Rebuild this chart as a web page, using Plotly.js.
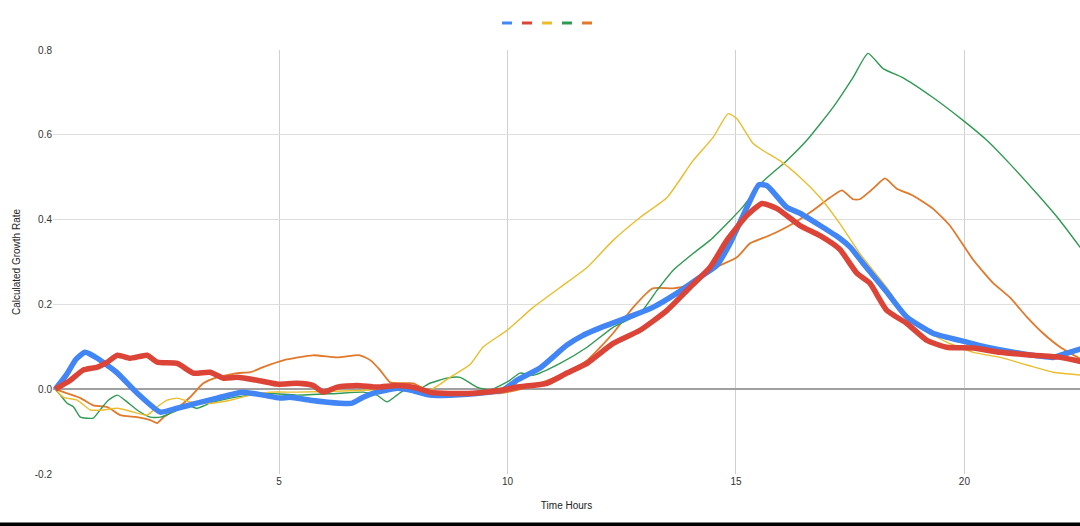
<!DOCTYPE html>
<html>
<head>
<meta charset="utf-8">
<script src="https://cdn.plot.ly/plotly-3.0.1.min.js"></script>
<style>
  html, body { margin: 0; padding: 0; background: #fff; }
  #myPlot { width: 1080px; height: 526px; }
</style>
</head>
<body>
<div id="myPlot"></div>
<script>
// series: time (hours) and growth rate
var blueX = [0.1, 0.35, 0.55, 0.75, 1.02, 1.46, 1.89, 2.4, 2.77, 3.2, 3.64, 4.2, 4.65, 5.02, 5.24, 5.68, 6.33, 6.6, 6.84, 7.14, 7.58, 7.87, 8.3, 8.74, 9.33, 9.9, 10.2, 10.71, 11.3, 11.65, 12.18, 12.75, 13.18, 13.7, 14.21, 14.58, 14.87, 15.24, 15.5, 15.68, 16.11, 16.4, 16.84, 17.27, 17.5, 17.78, 18.3, 18.74, 19.31, 19.9, 20.49, 21.2, 21.94, 22.3, 22.6];
var blueY = [0, 0.035, 0.07, 0.087, 0.073, 0.038, -0.009, -0.054, -0.045, -0.033, -0.021, -0.007, -0.014, -0.021, -0.019, -0.026, -0.033, -0.033, -0.019, -0.007, 0.002, -0.002, -0.014, -0.014, -0.01, -0.002, 0.021, 0.05, 0.104, 0.127, 0.151, 0.174, 0.193, 0.226, 0.264, 0.292, 0.344, 0.429, 0.482, 0.48, 0.429, 0.415, 0.386, 0.356, 0.335, 0.297, 0.229, 0.17, 0.132, 0.115, 0.099, 0.085, 0.075, 0.087, 0.097];

var redX = [0.1, 0.43, 0.71, 1.02, 1.24, 1.46, 1.74, 2.11, 2.33, 2.77, 3.12, 3.49, 3.78, 4.08, 4.52, 4.96, 5.39, 5.74, 5.96, 6.27, 6.7, 7.14, 7.58, 7.93, 8.3, 8.74, 9.33, 9.9, 10.2, 10.86, 11.3, 11.74, 12.31, 12.9, 13.49, 13.99, 14.43, 14.8, 15.24, 15.57, 15.9, 16.4, 16.84, 17.27, 17.65, 17.93, 18.3, 18.74, 19.18, 19.61, 20.2, 20.78, 21.5, 22.1, 22.6];
var redY = [0, 0.021, 0.045, 0.052, 0.064, 0.08, 0.073, 0.08, 0.064, 0.061, 0.038, 0.04, 0.026, 0.028, 0.021, 0.012, 0.014, 0.009, -0.007, 0.005, 0.009, 0.005, 0.009, 0.005, -0.007, -0.01, -0.009, -0.002, 0.005, 0.014, 0.038, 0.061, 0.108, 0.139, 0.186, 0.24, 0.287, 0.351, 0.41, 0.438, 0.426, 0.386, 0.362, 0.33, 0.273, 0.25, 0.186, 0.155, 0.115, 0.099, 0.097, 0.087, 0.08, 0.075, 0.064];

var yellowX = [0.1, 0.28, 0.58, 0.87, 1.15, 1.46, 1.81, 2.11, 2.33, 2.55, 2.77, 3.05, 3.49, 3.93, 4.37, 4.8, 5.39, 6.2, 7.0, 7.87, 8.3, 8.74, 9.18, 9.47, 9.99, 10.56, 11.15, 11.74, 12.31, 12.9, 13.49, 14.06, 14.5, 14.83, 15.02, 15.37, 15.59, 15.96, 16.4, 16.84, 17.27, 17.71, 18.3, 18.65, 19.02, 19.61, 20.2, 20.78, 21.37, 21.94, 22.6];
var yellowY = [0, -0.019, -0.026, -0.049, -0.049, -0.045, -0.054, -0.061, -0.042, -0.026, -0.021, -0.03, -0.033, -0.026, -0.014, -0.007, -0.007, -0.005, -0.002, 0.005, -0.002, 0.028, 0.058, 0.1, 0.139, 0.193, 0.24, 0.287, 0.351, 0.405, 0.452, 0.539, 0.594, 0.65, 0.638, 0.58, 0.563, 0.539, 0.5, 0.452, 0.391, 0.32, 0.24, 0.186, 0.146, 0.111, 0.087, 0.075, 0.057, 0.04, 0.033];

var greenX = [0.1, 0.21, 0.36, 0.5, 0.65, 0.93, 1.08, 1.26, 1.46, 1.67, 1.89, 2.18, 2.4, 2.68, 2.99, 3.2, 3.49, 3.93, 4.37, 4.8, 5.39, 6.27, 6.84, 7.14, 7.36, 7.58, 7.8, 8.02, 8.3, 8.67, 8.96, 9.33, 9.62, 10.05, 10.27, 10.56, 11.15, 11.74, 12.31, 12.9, 13.27, 13.62, 14.06, 14.43, 14.87, 15.15, 15.59, 16.11, 16.55, 17.12, 17.56, 17.89, 18.22, 18.65, 19.31, 19.97, 20.49, 20.99, 21.58, 22.09, 22.6];
var greenY = [0, -0.014, -0.033, -0.042, -0.066, -0.068, -0.049, -0.026, -0.014, -0.03, -0.049, -0.066, -0.066, -0.054, -0.038, -0.045, -0.033, -0.021, -0.014, -0.01, -0.014, -0.01, -0.007, -0.014, -0.03, -0.014, 0.002, -0.002, 0.014, 0.026, 0.028, 0.005, -0.002, 0.021, 0.038, 0.033, 0.061, 0.099, 0.146, 0.179, 0.233, 0.28, 0.32, 0.351, 0.398, 0.43, 0.49, 0.539, 0.587, 0.664, 0.735, 0.792, 0.756, 0.735, 0.688, 0.634, 0.587, 0.532, 0.462, 0.398, 0.325];

var orangeX = [0.1, 0.36, 0.65, 0.93, 1.24, 1.52, 1.89, 2.18, 2.33, 2.47, 2.77, 3.05, 3.34, 3.64, 4.08, 4.37, 4.65, 5.09, 5.74, 6.27, 6.77, 7.0, 7.21, 7.43, 7.71, 7.93, 8.24, 8.59, 9.18, 9.77, 10.2, 10.56, 11.15, 11.74, 12.31, 12.75, 13.18, 13.62, 13.93, 14.36, 14.65, 15.02, 15.31, 15.74, 16.25, 16.69, 17.06, 17.32, 17.56, 17.71, 18.0, 18.26, 18.52, 18.87, 19.31, 19.68, 20.2, 20.63, 20.99, 21.37, 21.72, 22.1, 22.6];
var orangeY = [0, -0.01, -0.021, -0.038, -0.042, -0.061, -0.066, -0.073, -0.08, -0.066, -0.045, -0.019, 0.014, 0.028, 0.038, 0.04, 0.052, 0.068, 0.08, 0.075, 0.08, 0.068, 0.045, 0.016, 0.014, 0.014, -0.002, -0.01, -0.007, -0.01, -0.002, 0.009, 0.033, 0.068, 0.132, 0.193, 0.238, 0.238, 0.245, 0.28, 0.292, 0.311, 0.344, 0.363, 0.391, 0.422, 0.452, 0.469, 0.448, 0.448, 0.473, 0.497, 0.473, 0.457, 0.426, 0.386, 0.304, 0.25, 0.217, 0.17, 0.132, 0.099, 0.068];

var xTickVals = [5, 10, 15, 20];
var yTickVals = [-0.2, 0, 0.2, 0.4, 0.6, 0.8];
var yTickText = ['-0.2', '0.0', '0.2', '0.4', '0.6', '0.8'];

var seriesColors = ['#4285f4', '#db4437', '#ebbd2c', '#2f9a52', '#e2782a'];

function makeTrace(x, y, color, width) {
    return {
        x: x,
        y: y,
        mode: 'lines',
        type: 'scatter',
        line: { color: color, width: width, shape: 'spline', smoothing: 0.5 },
        showlegend: false,
        hoverinfo: 'x+y'
    };
}

// draw order: thin lines first, thick blue and red on top
let plotData = [
    makeTrace(orangeX, orangeY, seriesColors[4], 1.8),
    makeTrace(greenX, greenY, seriesColors[3], 1.4),
    makeTrace(yellowX, yellowY, seriesColors[2], 1.4),
    makeTrace(blueX, blueY, seriesColors[0], 5.5),
    makeTrace(redX, redY, seriesColors[1], 5.5)
];

// legend swatches (no labels in the original), plus the dark strip at the bottom
var shapes = [];
for (var i = 0; i < seriesColors.length; i++) {
    var cx = 507 + 20 * i;
    shapes.push({
        type: 'rect', xref: 'paper', yref: 'paper', layer: 'above',
        x0: (cx - 5 - 53) / 1027, x1: (cx + 5 - 53) / 1027,
        y0: (474 - 24.5) / 424, y1: (474 - 21.5) / 424,
        fillcolor: seriesColors[i], line: { width: 0 }
    });
}
shapes.push({
    type: 'rect', xref: 'paper', yref: 'paper', layer: 'above',
    x0: -0.1, x1: 1.1, y0: -0.2, y1: (474 - 522.5) / 424,
    fillcolor: '#000000', line: { width: 0 }
});

let layout = {
    width: 1080,
    height: 526,
    margin: { l: 53, r: 0, t: 50, b: 52 },
    paper_bgcolor: '#ffffff',
    plot_bgcolor: '#ffffff',
    font: { family: 'Arial, "Liberation Sans", sans-serif', size: 10, color: '#222222' },
    showlegend: false,
    xaxis: {
        range: [0.05, 22.53],
        tickvals: xTickVals,
        showgrid: true,
        gridcolor: '#d0d0d0',
        gridwidth: 1,
        zeroline: false,
        showline: false,
        ticks: '',
        tickfont: { size: 10, color: '#333333' },
        title: { text: 'Time Hours', font: { size: 10, color: '#222222' }, standoff: 15 },
        automargin: false
    },
    yaxis: {
        range: [-0.2, 0.8],
        tickvals: yTickVals,
        ticktext: yTickText,
        showgrid: true,
        gridcolor: '#dedede',
        gridwidth: 1,
        zeroline: true,
        zerolinecolor: '#a0a0a0',
        zerolinewidth: 2,
        showline: false,
        ticks: '',
        tickfont: { size: 10, color: '#333333' },
        title: { text: 'Calculated Growth Rate', font: { size: 10, color: '#222222' }, standoff: 12 },
        automargin: false
    },
    shapes: shapes
};

Plotly.newPlot('myPlot', plotData, layout, { displayModeBar: false, staticPlot: true });
</script>
</body>
</html>
